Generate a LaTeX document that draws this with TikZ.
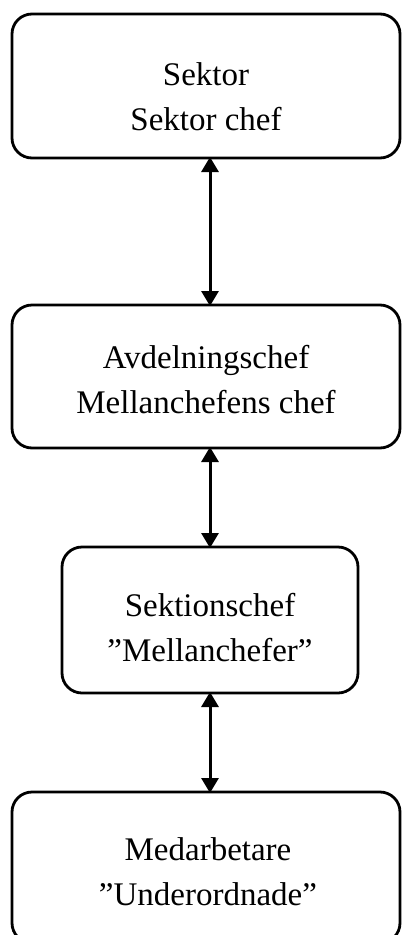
\documentclass[tikz,border=0pt]{standalone}
\usepackage{fontspec}
\setmainfont{Liberation Serif}
\usetikzlibrary{arrows.meta,calc}
\begin{document}
\begin{tikzpicture}[x=1pt,y=1pt,
  box/.style={draw=black, line width=2.8pt, rounded corners=20pt, inner sep=0pt, outer sep=0pt},
  txt/.style={font=\fontsize{33}{45}\selectfont, anchor=base, inner sep=0pt},
  arr/.style={line width=3pt, {Triangle[width=17pt,length=15pt]}-{Triangle[width=17pt,length=15pt]}, shorten <=-1pt, shorten >=-1pt}]
\clip (0,0) rectangle (402,-935);
\fill[white] (0,0) rectangle (402,-935);
% boxes
\node[box, minimum width=388pt, minimum height=144pt] (b1) at (206,-86) {};
\node[box, minimum width=388pt, minimum height=143pt] (b2) at (206,-376.5) {};
\node[box, minimum width=296pt, minimum height=146pt] (b3) at (210,-620) {};
\node[box, minimum width=388pt, minimum height=151pt] (b4) at (206,-867.5) {};
% texts
\node[txt] (t1a) at (206,-85) {Sektor};
\node[txt] (t1b) at (206,-130) {Sektor chef};
\node[txt] (t2a) at (206,-368) {Avdelningschef};
\node[txt] (t2b) at (206,-413) {Mellanchefens chef};
\node[txt] (t3a) at (210,-616) {Sektionschef};
\node[txt] (t3b) at (210,-661) {”Mellanchefer”};
\node[txt] (t4a) at (208,-860) {Medarbetare};
\node[txt] (t4b) at (208,-905) {”Underordnade”};
% arrows
\draw[arr] (b1.south -| b3.center) -- (b2.north -| b3.center);
\draw[arr] (b2.south -| b3.center) -- (b3.north);
\draw[arr] (b3.south) -- (b4.north -| b3.center);
\end{tikzpicture}
\end{document}
